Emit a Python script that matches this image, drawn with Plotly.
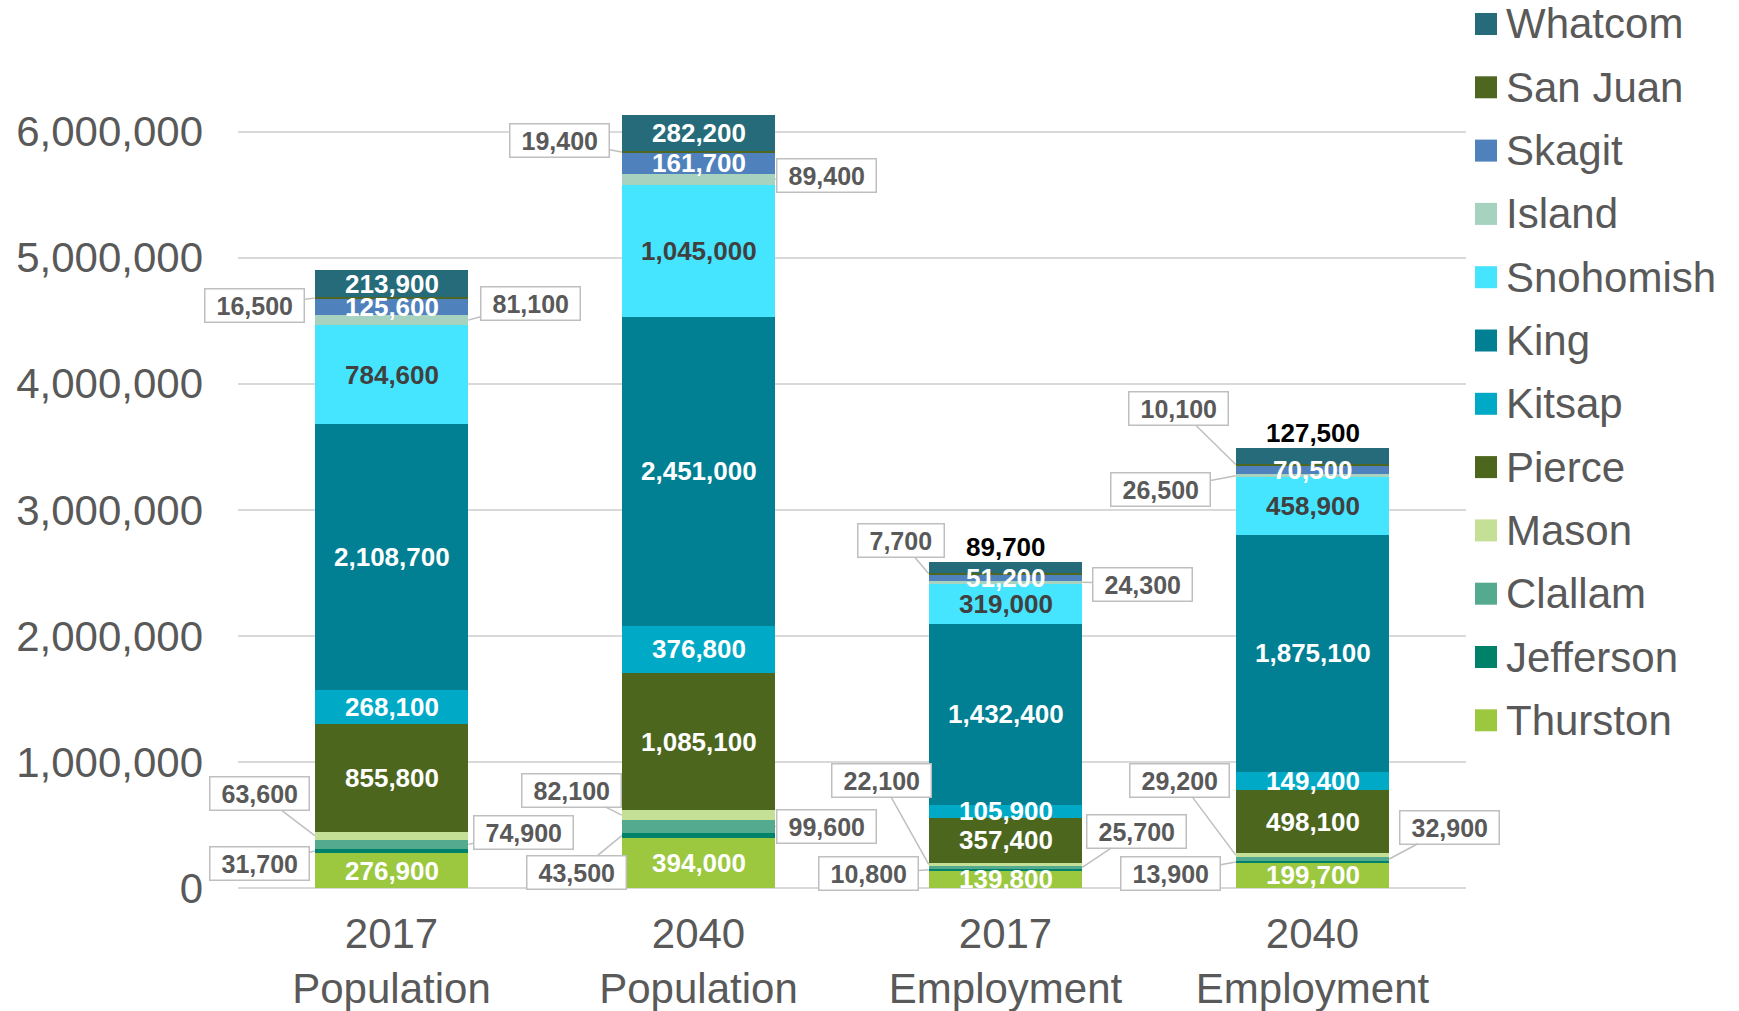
import plotly.graph_objects as go

categories = ["2017<br>Population", "2040<br>Population", "2017<br>Employment", "2040<br>Employment"]

# stack order, bottom to top
series = ["Thurston", "Jefferson", "Clallam", "Mason", "Pierce", "Kitsap",
          "King", "Snohomish", "Island", "Skagit", "San Juan", "Whatcom"]

thurston = [276900, 394000, 139800, 199700]
jefferson = [31700, 43500, 10800, 13900]
clallam = [74900, 99600, 25700, 32900]
mason = [63600, 82100, 22100, 29200]
pierce = [855800, 1085100, 357400, 498100]
kitsap = [268100, 376800, 105900, 149400]
king = [2108700, 2451000, 1432400, 1875100]
snohomish = [784600, 1045000, 319000, 458900]
island = [81100, 89400, 24300, 26500]
skagit = [125600, 161700, 51200, 70500]
san_juan = [16500, 19400, 7700, 10100]
whatcom = [213900, 282200, 89700, 127500]

values = [thurston, jefferson, clallam, mason, pierce, kitsap,
          king, snohomish, island, skagit, san_juan, whatcom]

colors = {
    "Whatcom": "#266B79", "San Juan": "#4F6621", "Skagit": "#4F81BD",
    "Island": "#A6D2BF", "Snohomish": "#46E5FF", "King": "#017F93",
    "Kitsap": "#00AAC6", "Pierce": "#4D661E", "Mason": "#C4DF96",
    "Clallam": "#54AA8E", "Jefferson": "#00826A", "Thurston": "#9BC83F",
}

# callout box offsets in pixels (from the bar edge to the box centre)
callouts = {
    ("San Juan", 0): (-60, 7), ("Island", 0): (62, -17), ("Mason", 0): (-55, -42),
    ("Clallam", 0): (55, -12), ("Jefferson", 0): (-55, 12),
    ("San Juan", 1): (-62, -12), ("Island", 1): (51, -4), ("Mason", 1): (-50, -25),
    ("Clallam", 1): (51, 0), ("Jefferson", 1): (-45, 37),
    ("San Juan", 2): (-28, -33), ("Island", 2): (60, 2), ("Mason", 2): (-47, -84),
    ("Clallam", 2): (54, -36), ("Jefferson", 2): (-60, 4),
    ("San Juan", 3): (-57, -56), ("Island", 3): (-75, 14), ("Mason", 3): (-56, -75),
    ("Clallam", 3): (60, -32), ("Jefferson", 3): (-65, 12),
}
above = {("Whatcom", 2), ("Whatcom", 3)}

W, H = 1739, 1011
ML, MR, MT, MB = 238, 273, 56, 123
PW, PH = W - ML - MR, H - MT - MB
YMAX = 6600000
FONT = "Liberation Sans, Arial, sans-serif"
GREY = "#595959"
CALLOUT_SIZE = 25


def text_width(s, size):
    # rough bold Arial width: digits 0.556em, commas 0.278em
    return sum(0.278 if c == "," else 0.556 for c in s) * size


fig = go.Figure()
for name, vals in zip(series, values):
    fig.add_trace(go.Bar(
        x=categories, y=vals, name=name,
        marker=dict(color=colors[name], line=dict(width=0)),
        showlegend=False,
        hovertemplate="%{x}<br>" + name + ": %{y:,}<extra></extra>",
    ))

annotations = []
base = [0, 0, 0, 0]
for name, vals in zip(series, values):
    for i, v in enumerate(vals):
        mid = base[i] + v / 2
        label = f"{v:,}"
        if (name, i) in callouts:
            ax, ay = callouts[(name, i)]
            edge = -0.25 if ax < 0 else 0.25
            annotations.append(dict(
                x=i + edge, y=mid, xref="x", yref="y", text=f"<b>{label}</b>",
                showarrow=True, arrowhead=0, arrowwidth=1.5, arrowcolor="#BFBFBF",
                ax=ax, ay=ay, standoff=0,
                width=text_width(label, CALLOUT_SIZE) + 18,
                bgcolor="white", bordercolor="#BFBFBF", borderwidth=1.5, borderpad=2,
                font=dict(family=FONT, size=CALLOUT_SIZE, color=GREY),
            ))
        elif (name, i) in above:
            annotations.append(dict(
                x=i, y=base[i] + v, xref="x", yref="y", text=f"<b>{label}</b>",
                showarrow=False, yanchor="bottom", yshift=-2,
                font=dict(family=FONT, size=26, color="black"),
            ))
        else:
            annotations.append(dict(
                x=i, y=mid, xref="x", yref="y", text=f"<b>{label}</b>",
                showarrow=False,
                font=dict(family=FONT, size=26,
                          color="#404040" if name == "Snohomish" else "white"),
            ))
        base[i] += v

# legend drawn by hand so the swatches can be as large as in the original
shapes = []
for k, name in enumerate(reversed(series)):
    cy = 24 + k * 63.3
    yp = (H - MB - cy) / PH
    shapes.append(dict(
        type="rect", xref="paper", yref="paper",
        xsizemode="pixel", ysizemode="pixel",
        xanchor=(1475 - ML) / PW, yanchor=yp,
        x0=0, x1=22, y0=-11, y1=11,
        fillcolor=colors[name], line=dict(width=0),
    ))
    annotations.append(dict(
        x=(1504 - ML) / PW, y=yp, xref="paper", yref="paper",
        text=name, showarrow=False, xanchor="left", yanchor="middle",
        font=dict(family=FONT, size=42, color=GREY),
    ))

fig.update_layout(
    barmode="stack",
    bargap=0.5,
    width=W, height=H,
    margin=dict(l=ML, r=MR, t=MT, b=MB),
    plot_bgcolor="white", paper_bgcolor="white",
    font=dict(family=FONT, color=GREY),
    annotations=annotations,
    shapes=shapes,
    showlegend=False,
)
fig.update_xaxes(
    range=[-0.5, 3.5], automargin=False,
    tickfont=dict(family=FONT, size=42, color=GREY),
    showgrid=False, showline=False, ticklabelstandoff=17,
)
fig.update_yaxes(
    range=[0, YMAX], dtick=1000000, tickformat=",d", automargin=False,
    tickfont=dict(family=FONT, size=42, color=GREY),
    gridcolor="#D9D9D9", gridwidth=1.5,
    zeroline=True, zerolinecolor="#D9D9D9", zerolinewidth=1.5,
    showline=False, ticklabelstandoff=34,
)

# drop the browser's default 8px body margin so the figure sits at the page corner
fig.write_html("out.html", config={"displayModeBar": False},
               post_script="document.body.style.margin = '0px';")
